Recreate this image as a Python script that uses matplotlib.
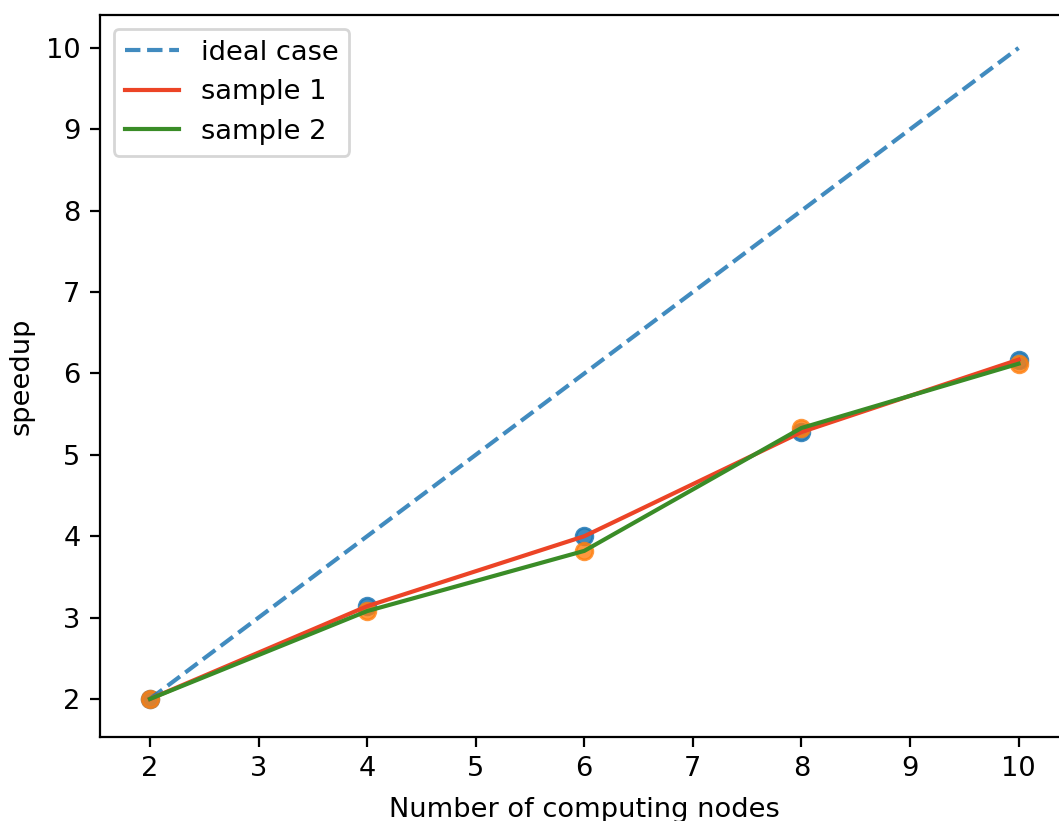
import matplotlib
matplotlib.use("Agg")
import matplotlib.pyplot as plt

# Speedup measurements versus number of computing nodes
nodes = [2, 4, 6, 8, 10]
ideal = [2, 4, 6, 8, 10]
sample1 = [2.0, 3.14, 4.0, 5.28, 6.17]
sample2 = [2.0, 3.08, 3.82, 5.33, 6.12]

plt.rcParams["font.size"] = 9.8

fig = plt.figure(figsize=(1059 / 200, 821 / 200), dpi=200)
ax = fig.add_axes([100 / 1059, 84 / 821, 962 / 1059, 722 / 821])

ax.scatter(nodes, sample1, color="#1f77b4", alpha=0.85)
ax.scatter(nodes, sample2, color="#ff7f0e", alpha=0.8)
ax.plot(nodes, ideal, "--", color="#1f77b4", alpha=0.85, label="ideal case")
ax.plot(nodes, sample1, color="#ec4426", label="sample 1")
ax.plot(nodes, sample2, color="#3a8c27", label="sample 2")

ax.set_xlim(1.54, 10.4)
ax.set_ylim(1.533, 10.405)
ax.set_xticks(range(2, 11))
ax.set_yticks(range(2, 11))
ax.set_xlabel("Number of computing nodes", x=0.504, labelpad=5.2)
ax.set_ylabel("speedup")
ax.legend(loc="upper left")

fig.savefig("out.png", dpi=200)
